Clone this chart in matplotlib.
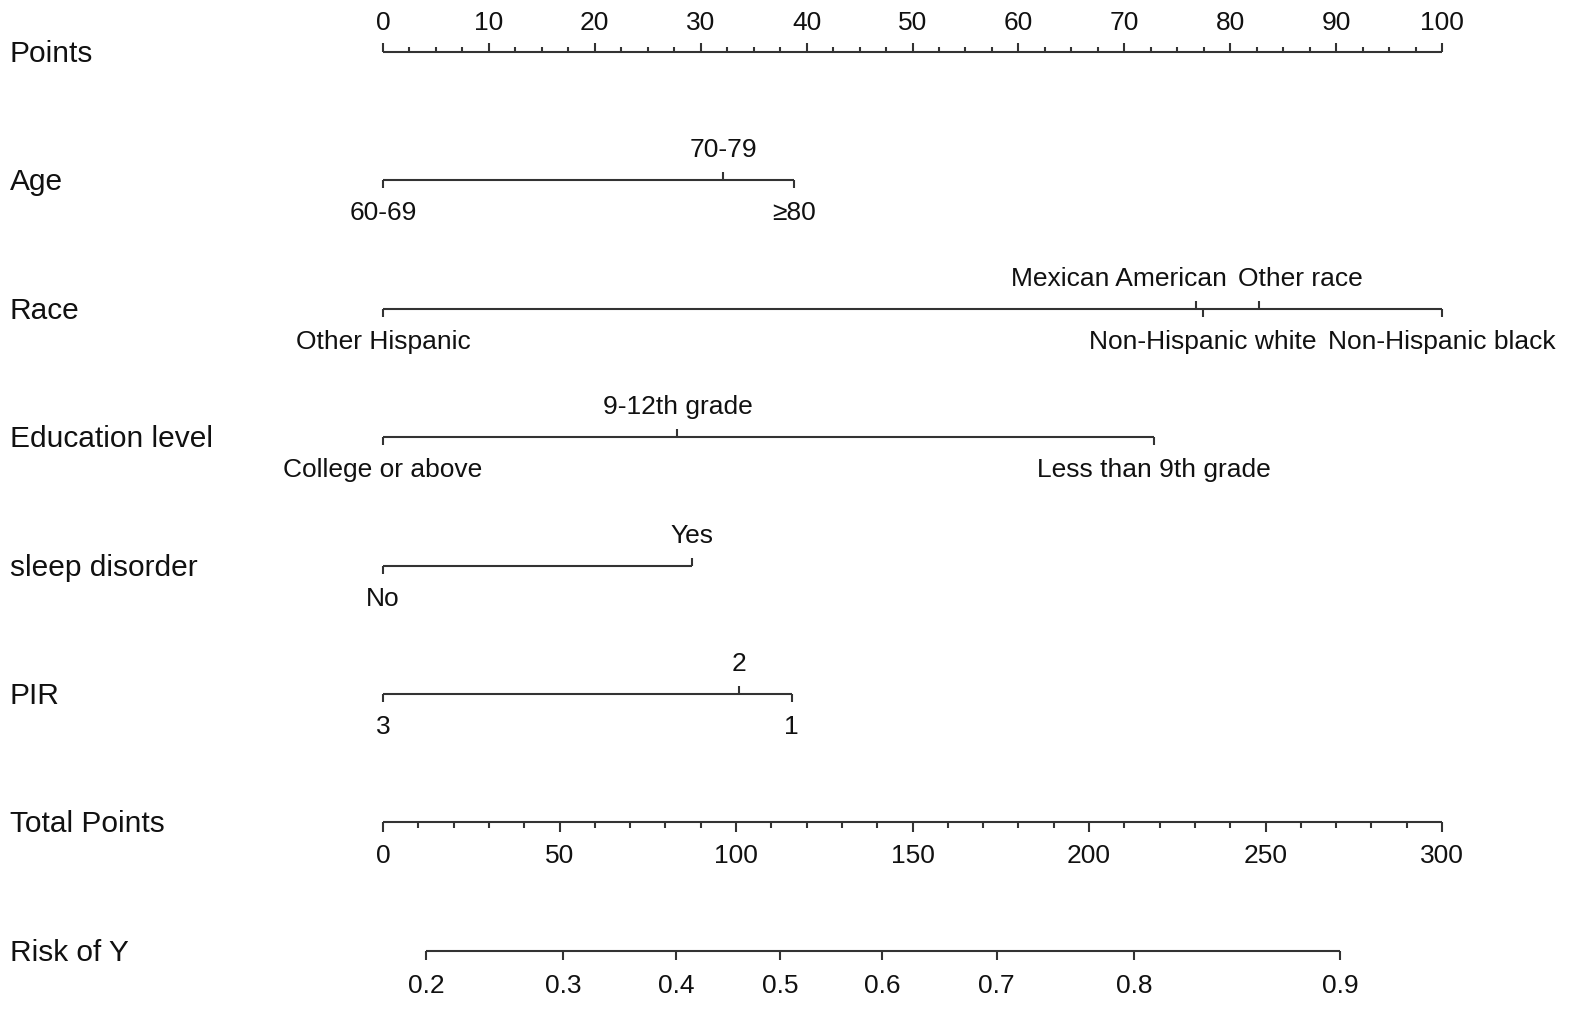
import matplotlib
matplotlib.use('Agg')
import matplotlib.pyplot as plt
from matplotlib.transforms import blended_transform_factory

plt.rcParams['font.family'] = ['Liberation Sans', 'DejaVu Sans']

# ---------------- data ----------------
row_names = ["Points", "Age", "Race", "Education level", "sleep disorder",
             "PIR", "Total Points", "Risk of Y"]

age_levels = ["60-69", "70-79", "≥80"]
age_points = [0, 32.1, 38.8]

race_levels = ["Other Hispanic", "Mexican American", "Non-Hispanic white",
               "Other race", "Non-Hispanic black"]
race_points = [0, 76.8, 77.4, 82.7, 100]

edu_levels = ["College or above", "9-12th grade", "Less than 9th grade"]
edu_points = [0, 27.8, 72.8]

sleep_levels = ["No", "Yes"]
sleep_points = [0, 29.2]

pir_levels = ["3", "2", "1"]
pir_points = [0, 33.6, 38.6]

points_labels = [0, 10, 20, 30, 40, 50, 60, 70, 80, 90, 100]
points_minor_step = 2.5
total_labels = [0, 50, 100, 150, 200, 250, 300]
total_minor_step = 10
total_max = 300
risk_labels = ["0.2", "0.3", "0.4", "0.5", "0.6", "0.7", "0.8", "0.9"]
risk_total_points = [12.2, 51.0, 83.0, 112.4, 141.5, 173.8, 212.8, 271.2]

# label nudges (in points units) for crowded Race labels
label_shift = {"Mexican American": -7.3, "Other race": 3.9}

# ---------------- layout ----------------
W, H = 1595, 1023
fig = plt.figure(figsize=(W / 100, H / 100), dpi=100)
ax = fig.add_axes([0, 0, 1, 1])
px0, px100 = 383, 1442
ppp = (px100 - px0) / 100.0
ax.set_xlim(-px0 / ppp, (W - px0) / ppp)
ax.set_ylim(H, 0)
ax.axis('off')

row_y0, row_dy = 52, 128.4
rows = [row_y0 + i * row_dy for i in range(len(row_names))]
line_kw = dict(color='#333333', lw=1.5, solid_capstyle='butt')
txt_kw = dict(color='#111111', fontsize=19)
name_kw = dict(color='#111111', fontsize=21.5)

trans = blended_transform_factory(ax.transAxes, ax.transData)
for name, y in zip(row_names, rows):
    ax.text(10 / W, y + 2, name, transform=trans, ha='left', va='center', **name_kw)

# Points axis (ticks upward, labels above)
y = rows[0]
ax.plot([0, 100], [y, y], **line_kw)
n_minor = int(round(100 / points_minor_step))
for k in range(n_minor + 1):
    v = k * points_minor_step
    major = abs(v / 10 - round(v / 10)) < 1e-9
    ax.plot([v, v], [y, y - (9 if major else 5)], **line_kw)
for v in points_labels:
    ax.text(v, y - 29, str(v), ha='center', va='center', **txt_kw)

# variable axes
variables = [(age_levels, age_points), (race_levels, race_points),
             (edu_levels, edu_points), (sleep_levels, sleep_points),
             (pir_levels, pir_points)]
for (levels, pts), y in zip(variables, rows[1:6]):
    ax.plot([min(pts), max(pts)], [y, y], **line_kw)
    order = sorted(range(len(pts)), key=lambda i: pts[i])
    for rank, i in enumerate(order):
        above = rank % 2 == 1
        ax.plot([pts[i], pts[i]], [y, y - 8 if above else y + 8], **line_kw)
        xt = pts[i] + label_shift.get(levels[i], 0)
        ax.text(xt, y - 30 if above else y + 33, levels[i],
                ha='center', va='center', **txt_kw)

# Total points axis (ticks downward, labels below)
y = rows[6]
scale = 100.0 / total_max
ax.plot([0, 100], [y, y], **line_kw)
for k in range(int(total_max / total_minor_step) + 1):
    v = k * total_minor_step
    major = v % 50 == 0
    ax.plot([v * scale, v * scale], [y, y + (10 if major else 6)], **line_kw)
for v in total_labels:
    ax.text(v * scale, y + 34, str(v), ha='center', va='center', **txt_kw)

# Risk axis
y = rows[7]
ax.plot([risk_total_points[0] * scale, risk_total_points[-1] * scale], [y, y], **line_kw)
for lab, tp in zip(risk_labels, risk_total_points):
    ax.plot([tp * scale, tp * scale], [y, y + 9], **line_kw)
    ax.text(tp * scale, y + 35, lab, ha='center', va='center', **txt_kw)

fig.savefig('out.png', dpi=100)
